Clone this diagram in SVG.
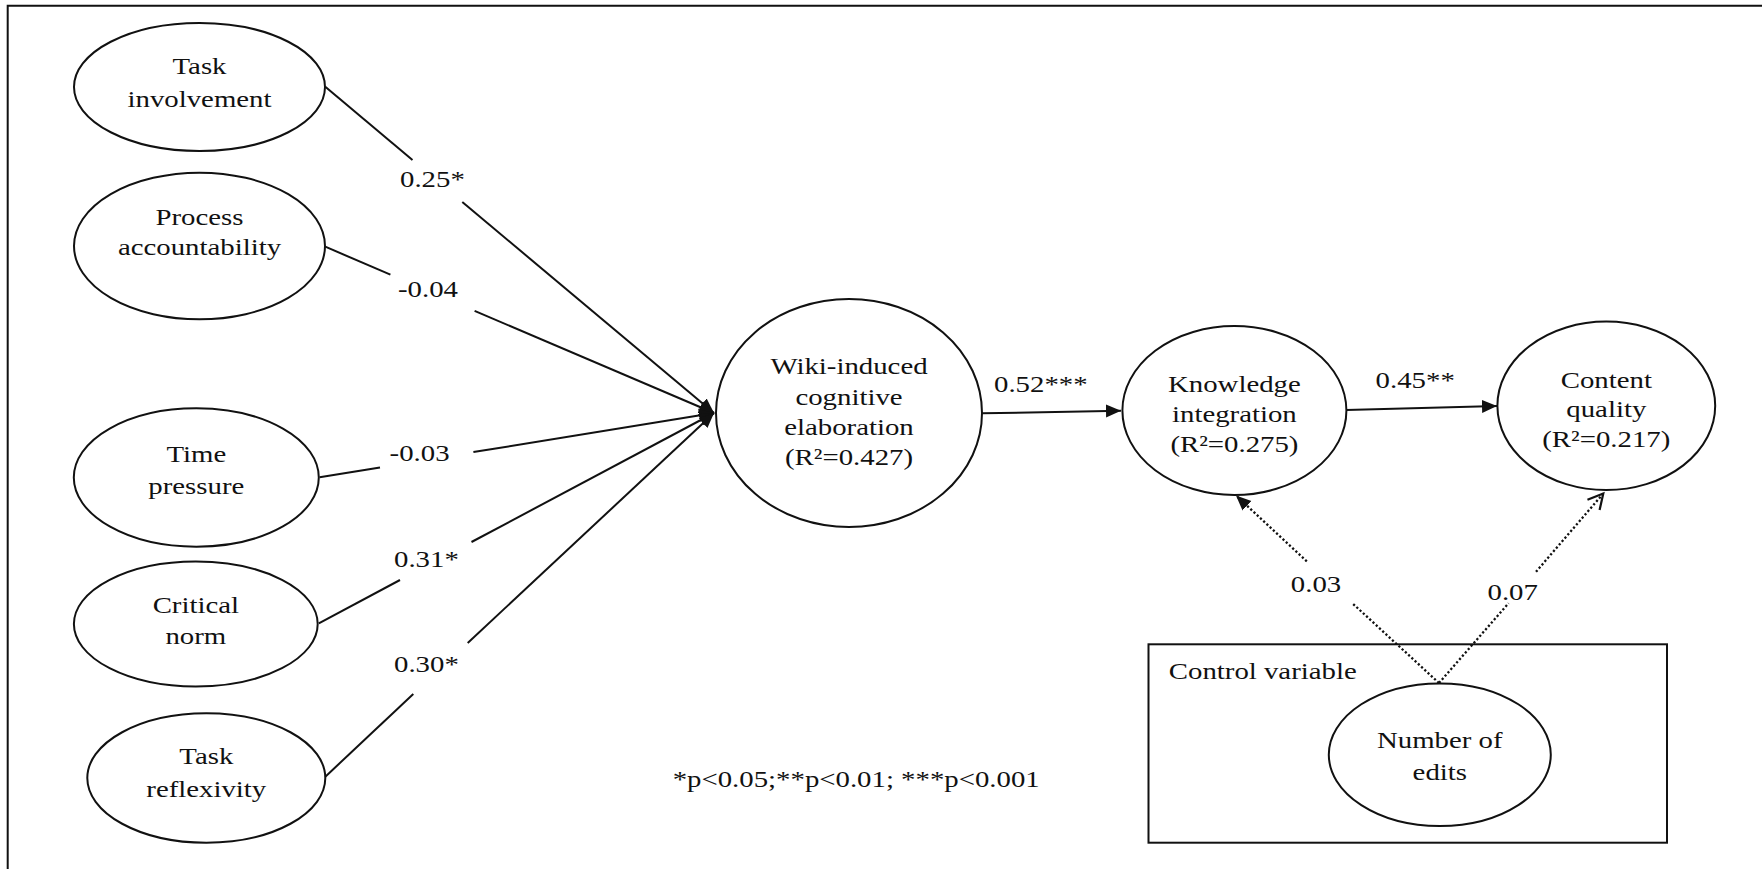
<svg xmlns="http://www.w3.org/2000/svg" width="1762" height="869" viewBox="0 0 1762 869">
<style>
.t{font-family:"Liberation Serif","Times New Roman",serif;font-size:24px;fill:#111;}
.m{text-anchor:middle;}
.node{fill:#fff;stroke:#111;stroke-width:2;}
.ln{fill:none;stroke:#111;stroke-width:2;}
.dot{fill:none;stroke:#111;stroke-width:2.3;stroke-dasharray:2.2 2.2;}
</style>
<defs>
<marker id="af" markerUnits="userSpaceOnUse" markerWidth="16" markerHeight="16" viewBox="0 0 16 16" refX="15" refY="8" orient="auto">
<path d="M0,1.5 L15,8 L0,14.5 z" fill="#111" stroke="none"/>
</marker>
<marker id="ao" markerUnits="userSpaceOnUse" markerWidth="20" markerHeight="20" viewBox="0 0 20 20" refX="17" refY="10" orient="auto">
<path d="M2,2 L17,10 L2,18" fill="none" stroke="#111" stroke-width="2.2" stroke-dasharray="none"/>
</marker>
</defs>
<rect width="1762" height="869" fill="#fff"/>
<path d="M7.7,869 V5.7 H1762" fill="none" stroke="#111" stroke-width="2"/>

<g id="connectors">
<line class="ln" x1="325.3" y1="86.7" x2="412.5" y2="160"/>
<line class="ln" x1="462.3" y1="202" x2="714" y2="413" marker-end="url(#af)"/>
<line class="ln" x1="325.3" y1="246.7" x2="390.4" y2="274.7"/>
<line class="ln" x1="474.6" y1="310.9" x2="714" y2="413" marker-end="url(#af)"/>
<line class="ln" x1="319.6" y1="477.3" x2="380" y2="467.4"/>
<line class="ln" x1="473.4" y1="452.1" x2="714" y2="413" marker-end="url(#af)"/>
<line class="ln" x1="318.8" y1="623.3" x2="400" y2="580"/>
<line class="ln" x1="471.5" y1="542" x2="714" y2="413" marker-end="url(#af)"/>
<line class="ln" x1="325.3" y1="776.7" x2="413.3" y2="694"/>
<line class="ln" x1="467.7" y1="643" x2="714" y2="413" marker-end="url(#af)"/>
<line class="ln" x1="982" y1="413.3" x2="1121" y2="410.7" marker-end="url(#af)"/>
<line class="ln" x1="1346.3" y1="410" x2="1497" y2="406" marker-end="url(#af)"/>
<line class="dot" x1="1439" y1="683" x2="1352.4" y2="603.3"/>
<line class="dot" x1="1306.8" y1="561.3" x2="1236" y2="495.5" marker-end="url(#af)"/>
<line class="dot" x1="1439" y1="683" x2="1508.6" y2="603.2"/>
<line class="dot" x1="1536" y1="571.8" x2="1603.3" y2="493.5" marker-end="url(#ao)"/>
<text class="t" transform="translate(400,186.7) scale(1.2,1)">0.25*</text>
<text class="t" transform="translate(398,296.7) scale(1.2,1)">-0.04</text>
<text class="t" transform="translate(389.6,460.7) scale(1.2,1)">-0.03</text>
<text class="t" transform="translate(394,566.7) scale(1.2,1)">0.31*</text>
<text class="t" transform="translate(394,671.7) scale(1.2,1)">0.30*</text>
<text class="t" transform="translate(994,391.7) scale(1.2,1)">0.52***</text>
<text class="t" transform="translate(1375.6,388.3) scale(1.2,1)">0.45**</text>
<text class="t" transform="translate(1290.8,591.7) scale(1.2,1)">0.03</text>
<text class="t" transform="translate(1487.5,600) scale(1.2,1)">0.07</text>
</g>

<g id="task-involvement">
<ellipse class="node" cx="199.5" cy="87" rx="125.5" ry="64"/>
<g transform="translate(199.5,0) scale(1.2,1)"><text class="t m" x="0" y="74">Task</text><text class="t m" x="0" y="106.7">involvement</text></g>
</g>
<g id="process-accountability">
<ellipse class="node" cx="199.5" cy="246" rx="125.5" ry="73.3"/>
<g transform="translate(199.5,0) scale(1.2,1)"><text class="t m" x="0" y="225">Process</text><text class="t m" x="0" y="255">accountability</text></g>
</g>
<g id="time-pressure">
<ellipse class="node" cx="196.3" cy="477.5" rx="122.5" ry="69.2"/>
<g transform="translate(196.3,0) scale(1.2,1)"><text class="t m" x="0" y="461.7">Time</text><text class="t m" x="0" y="494">pressure</text></g>
</g>
<g id="critical-norm">
<ellipse class="node" cx="195.8" cy="624" rx="121.9" ry="62.5"/>
<g transform="translate(195.8,0) scale(1.2,1)"><text class="t m" x="0" y="612.7">Critical</text><text class="t m" x="0" y="644.3">norm</text></g>
</g>
<g id="task-reflexivity">
<ellipse class="node" cx="206.3" cy="778" rx="119" ry="64.7"/>
<g transform="translate(206.3,0) scale(1.2,1)"><text class="t m" x="0" y="764">Task</text><text class="t m" x="0" y="796.7">reflexivity</text></g>
</g>
<g id="wiki-elaboration">
<ellipse class="node" cx="849" cy="413" rx="133" ry="114"/>
<g transform="translate(849,0) scale(1.2,1)"><text class="t m" x="0" y="374">Wiki-induced</text><text class="t m" x="0" y="405">cognitive</text><text class="t m" x="0" y="435">elaboration</text><text class="t m" x="0" y="465">(R²=0.427)</text></g>
</g>
<g id="knowledge-integration">
<ellipse class="node" cx="1234.4" cy="410.5" rx="112" ry="84.5"/>
<g transform="translate(1234.4,0) scale(1.2,1)"><text class="t m" x="0" y="391.7">Knowledge</text><text class="t m" x="0" y="421.7">integration</text><text class="t m" x="0" y="452.5">(R²=0.275)</text></g>
</g>
<g id="content-quality">
<ellipse class="node" cx="1606.3" cy="405.8" rx="108.9" ry="84.2"/>
<g transform="translate(1606.3,0) scale(1.2,1)"><text class="t m" x="0" y="388.3">Content</text><text class="t m" x="0" y="417.5">quality</text><text class="t m" x="0" y="447.5">(R²=0.217)</text></g>
</g>
<g id="control-variable">
<rect x="1148.5" y="644.3" width="518.5" height="198.4" fill="none" stroke="#111" stroke-width="2"/>
<text class="t" transform="translate(1168.8,679.3) scale(1.2,1)">Control variable</text>
</g>
<g id="number-of-edits">
<ellipse class="node" cx="1439.8" cy="754.7" rx="111" ry="71.3"/>
<g transform="translate(1439.8,0) scale(1.2,1)"><text class="t m" x="0" y="747.7">Number of</text><text class="t m" x="0" y="780">edits</text></g>
</g>
<g id="footnote">
<text class="t" transform="translate(672.7,787.3) scale(1.2,1)">*p&lt;0.05;**p&lt;0.01; ***p&lt;0.001</text>
</g>
</svg>
